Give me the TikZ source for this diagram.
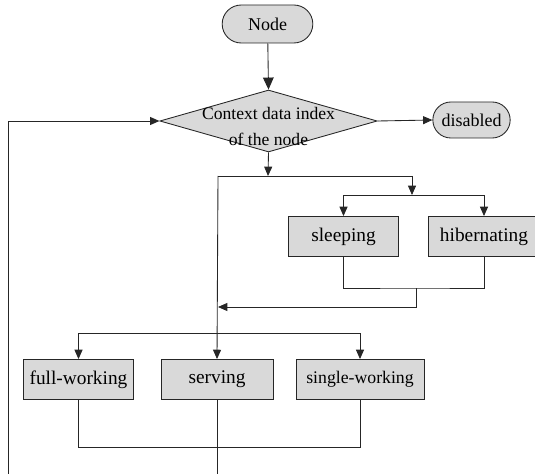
\documentclass[tikz,border=0pt]{standalone}
\usepackage{fontspec}
\setmainfont{Liberation Serif}
\usetikzlibrary{shapes.geometric,shapes.misc,arrows.meta}

\begin{document}
\begin{tikzpicture}[x=0.75pt,y=-0.75pt,line width=0.65pt,
	>={Triangle[length=7pt,width=6pt]},
	state/.style={draw=black!85,fill=black!15,minimum width=83pt,minimum height=30pt,inner sep=0pt,font=\fontsize{14.5}{16}\selectfont},
	term/.style={rounded rectangle,draw=black!85,fill=black!15,inner sep=0pt,font=\fontsize{13.5}{16}\selectfont}]
			\useasboundingbox (0,0) rectangle (535,474);
			% terminals and decision
			\node [term,minimum width=68pt,minimum height=28.5pt] (node) at (267.5,24) {Node};
			\node [diamond,draw=black!85,fill=black!15,minimum width=163pt,minimum height=46.5pt,inner sep=0pt] (ctx) at (268.5,121) {};
			\node [align=center,font=\fontsize{13.2}{19.5}\selectfont] (ctxtext) at (268.5,126) {Context data index\\of the node};
			\node [term,minimum width=58pt,minimum height=27pt] (disabled) at (471.5,120) {disabled};
			% states
			\node [state] (sleeping) at (343.5,236.5) {sleeping};
			\node [state,minimum width=84pt] (hibernating) at (484,236.5) {hibernating};
			\node [state] (fullw) at (78.5,379.5) {full-working};
			\node [state,minimum width=84pt] (serving) at (217,379.5) {serving};
			\node [state,minimum width=96pt,font=\fontsize{13.3}{16}\selectfont] (singlew) at (360,379.5) {single-working};
			% junctions
			\coordinate (split) at (268,176);
			\coordinate (splitL) at (218,176);
			\coordinate (splitR) at (412,176);
			\coordinate (rest) at (412,195);
			\coordinate (restL) at (343.5,195);
			\coordinate (restR) at (484,195);
			\coordinate (restM) at (416,288);
			\coordinate (back) at (218,307);
			\coordinate (workL) at (78.5,333);
			\coordinate (workR) at (360,333);
			\coordinate (loopS) at (217,474);
			\coordinate (loopW) at (8,474);
			% connectors
			\draw [black!85,-{Triangle[length=9pt,width=8pt]}] (node) -- (ctx.north);
			\draw [black!85,->] (ctx.east) -- (disabled.west);
			\draw [black!85,->] (ctx.south) -- (split);
			\draw [black!85] (splitL) -- (splitR);
			\draw [black!85,->] (splitR) -- (rest);
			\draw [black!85] (restL) -- (restR);
			\draw [black!85,->] (restL) -- (sleeping.north);
			\draw [black!85,->] (restR) -- (hibernating.north);
			\draw [black!85] (sleeping.south) |- (restM) -| (hibernating.south);
			\draw [black!85,->] (restM) |- (back);
			\draw [black!85,->] (splitL) -- (serving.north);
			\draw [black!85] (workL) -- (workR);
			\draw [black!85,->] (workL) -- (fullw.north);
			\draw [black!85,->] (workR) -- (singlew.north);
			\draw [black!85] (fullw.south) -- ++(0,47.5) -| (singlew.south);
			\draw [black!85] (serving.south) -- (loopS);
			\draw [black!85,->] (loopW) |- (ctx.west);
\end{tikzpicture}
\end{document}
